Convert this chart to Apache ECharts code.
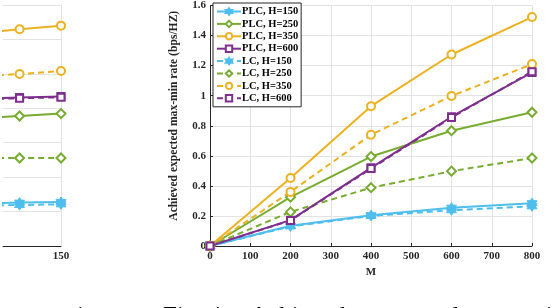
<!DOCTYPE html>
<html><head><meta charset="utf-8">
<script src="https://cdn.jsdelivr.net/npm/echarts@6/dist/echarts.min.js"></script>
<style>html,body{margin:0;padding:0;background:#fff}#c{width:552px;height:308px}</style>
</head><body><div id="c"></div>
<script>
// ---- main chart data ----
const M = [0, 200, 400, 600, 800];
const xTicks = [0, 100, 200, 300, 400, 500, 600, 700, 800];
const yTicks = [0, 0.2, 0.4, 0.6, 0.8, 1, 1.2, 1.4, 1.6];
const plc150 = [0, 0.135, 0.205, 0.255, 0.285];
const plc250 = [0, 0.325, 0.595, 0.767, 0.89];
const plc350 = [0, 0.452, 0.93, 1.274, 1.523];
const plc600 = [0, 0.172, 0.52, 0.86, 1.155];
const lc150 = [0, 0.13, 0.2, 0.238, 0.264];
const lc250 = [0, 0.227, 0.388, 0.498, 0.585];
const lc350 = [0, 0.36, 0.74, 0.998, 1.21];
const lc600 = [0, 0.17, 0.515, 0.855, 1.16];
const names = ['PLC, H=150','PLC, H=250','PLC, H=350','PLC, H=600','LC, H=150','LC, H=250','LC, H=350','LC, H=600'];
// ---- left (cropped) chart data ----
const leftX = [100, 125, 150];
const lplc150 = [0.248, 0.252, 0.256];
const lplc250 = [0.742, 0.755, 0.769];
const lplc350 = [1.235, 1.259, 1.280];
const lplc600 = [0.855, 0.862, 0.868];
const llc150 = [0.236, 0.238, 0.242];
const llc250 = [0.511, 0.511, 0.511];
const llc350 = [0.985, 0.999, 1.017];
const llc600 = [0.852, 0.858, 0.864];
// ---- caption fragments (cut off at the bottom edge) ----
const captionWords = ['in', 'Fig. 4.', 'Achieved', 'expected', 'max-min'];
const captionX = [77, 163, 250, 370, 475];

const COL = {b:'#4DBEEE', g:'#77AC30', o:'#EDB120', p:'#7E2F8E'};
const STAR = 'path://M0,-10 L2.9,-5 8.66,-5 5.8,0 8.66,5 2.9,5 0,10 -2.9,5 -8.66,5 -5.8,0 -8.66,-5 -2.9,-5 Z';
const FONT = 'Liberation Serif';
const specs = [
  [plc150, COL.b, STAR, 10, 'solid', false],
  [plc250, COL.g, 'emptyDiamond', 9, 'solid', true],
  [plc350, COL.o, 'emptyCircle', 8, 'solid', true],
  [plc600, COL.p, 'emptyRect', 7, 'solid', true],
  [lc150, COL.b, STAR, 10, 'dashed', false],
  [lc250, COL.g, 'emptyDiamond', 9, 'dashed', true],
  [lc350, COL.o, 'emptyCircle', 8, 'dashed', true],
  [lc600, COL.p, 'emptyRect', 7, 'dashed', true]
];
const leftData = [lplc150, lplc250, lplc350, lplc600, llc150, llc250, llc350, llc600];

const series = [];
specs.forEach((s, i) => {
  series.push({
    name: names[i], type: 'line', xAxisIndex: 0, yAxisIndex: 0,
    data: M.map((m, j) => [m, s[0][j]]),
    symbol: s[2], symbolSize: s[3], showAllSymbol: true,
    lineStyle: {color: s[1], width: 2, type: s[4] === 'dashed' ? [6, 4] : 'solid'},
    itemStyle: {color: s[1], borderColor: s[1], borderWidth: s[5] ? 1.8 : 1},
    z: 3 + i, animation: false
  });
});
specs.forEach((s, i) => {
  series.push({
    name: 'L' + names[i], type: 'line', xAxisIndex: 1, yAxisIndex: 1,
    data: leftX.map((x, j) => [x, leftData[i][j]]),
    symbol: s[2], symbolSize: s[3], showAllSymbol: true, clip: true,
    lineStyle: {color: s[1], width: 2, type: s[4] === 'dashed' ? [6, 4] : 'solid'},
    itemStyle: {color: s[1], borderColor: s[1], borderWidth: s[5] ? 1.8 : 1},
    z: 3 + i, animation: false
  });
});

const chart = echarts.init(document.getElementById('c'), null, {renderer: 'canvas'});
chart.setOption({
  animation: false,
  backgroundColor: '#fff',
  grid: [
    {left: 210, top: 4, right: 20, bottom: 62},
    {left: 0, top: 5, right: 491, bottom: 62}
  ],
  xAxis: [
    {type: 'value', gridIndex: 0, min: 0, max: 800, interval: 100,
     name: 'M', nameLocation: 'middle', nameGap: 20,
     nameTextStyle: {fontFamily: FONT, fontWeight: 'bold', fontSize: 11, color: '#262626'},
     axisLine: {show: true, onZero: false, lineStyle: {color: '#262626', width: 1}},
     axisTick: {show: true, inside: true, length: 3, lineStyle: {color: '#262626'}},
     axisLabel: {fontFamily: FONT, fontWeight: 'bold', fontSize: 11, color: '#262626', margin: 5,
       formatter: v => xTicks.includes(v) ? String(v) : ''},
     splitLine: {show: true, lineStyle: {color: '#e3e3e3', width: 1}}},
    {type: 'value', gridIndex: 1, min: 115, max: 150, interval: 5,
     axisLine: {show: true, onZero: false, lineStyle: {color: '#262626', width: 1}},
     axisTick: {show: false},
     axisLabel: {fontFamily: FONT, fontWeight: 'bold', fontSize: 11, color: '#262626', margin: 5,
       formatter: v => v === 150 ? '150' : ''},
     splitLine: {show: false}}
  ],
  yAxis: [
    {type: 'value', gridIndex: 0, min: 0, max: 1.6, interval: 0.2,
     name: 'Achieved expected max-min rate (bps/HZ)', nameLocation: 'middle', nameGap: 30,
     nameTextStyle: {fontFamily: FONT, fontWeight: 'bold', fontSize: 11.6, color: '#262626', padding: [0, 0, 0, 20]},
     axisLine: {show: true, lineStyle: {color: '#262626', width: 1}},
     axisTick: {show: true, inside: true, length: 3, lineStyle: {color: '#262626'}},
     axisLabel: {fontFamily: FONT, fontWeight: 'bold', fontSize: 11, color: '#262626', margin: 4,
       formatter: v => { const t = yTicks.find(k => Math.abs(k - v) < 1e-6); return t === undefined ? '' : String(t); }},
     splitLine: {show: true, lineStyle: {color: '#e3e3e3', width: 1}}},
    {type: 'value', gridIndex: 1, min: 0, max: 1.4, interval: 0.2, position: 'right',
     axisLine: {show: true, lineStyle: {color: '#e3e3e3', width: 1}},
     axisTick: {show: false}, axisLabel: {show: false},
     splitLine: {show: true, lineStyle: {color: '#e3e3e3', width: 1}}}
  ],
  legend: {
    data: names, orient: 'vertical', left: 213, top: 3,
    padding: [3, 3, 3, 3], itemGap: 1.4, itemWidth: 24, itemHeight: 8,
    backgroundColor: '#fff', borderColor: '#262626', borderWidth: 1,
    textStyle: {fontFamily: FONT, fontWeight: 'bold', fontSize: 10.5, color: '#000', lineHeight: 10, padding: [0,0,0,-4]}
  },
  graphic: captionWords.map((w, i) => ({
    type: 'text', x: captionX[i], y: 305, silent: true,
    style: {text: w, font: '25px "Liberation Serif"', fill: '#000', verticalAlign: 'top'}
  })),
  series: series
});
</script></body></html>
